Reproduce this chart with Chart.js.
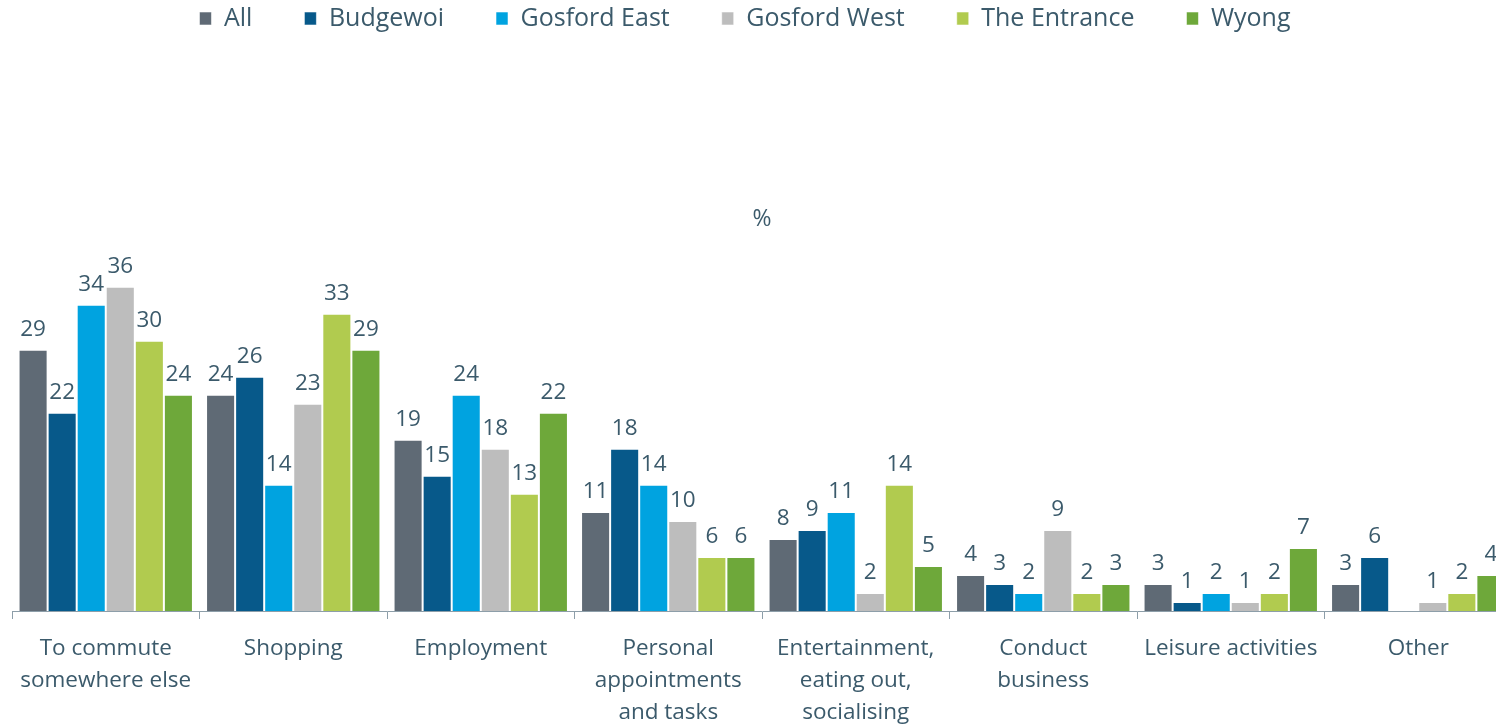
<!DOCTYPE html>
<html>
<head>
<meta charset="utf-8">
<title>Reasons for travel by area</title>
<script src="https://cdn.jsdelivr.net/npm/chart.js@4/dist/chart.umd.min.js"></script>
<style>
  html, body { margin: 0; padding: 0; background: #ffffff; overflow: hidden; }
  #wrap { position: relative; width: 1496px; height: 726px; overflow: hidden; }
  #chart { position: absolute; }
</style>
</head>
<body>
<div id="wrap"><canvas id="chart"></canvas></div>
<script>
// Trip purposes along the x axis
const categories = [
  ['To commute', 'somewhere else'],
  'Shopping',
  'Employment',
  ['Personal', 'appointments', 'and tasks'],
  ['Entertainment,', 'eating out,', 'socialising'],
  ['Conduct', 'business'],
  'Leisure activities',
  'Other'
];

// Share of respondents (%) per area
const seriesNames = ['All', 'Budgewoi', 'Gosford East', 'Gosford West', 'The Entrance', 'Wyong'];
const allAreas    = [29, 24, 19, 11, 8, 4, 3, 3];
const budgewoi    = [22, 26, 15, 18, 9, 3, 1, 6];
const gosfordEast = [34, 14, 24, 14, 11, 2, 2, 0];
const gosfordWest = [36, 23, 18, 10, 2, 9, 1, 1];
const theEntrance = [30, 33, 13, 6, 14, 2, 2, 2];
const wyong       = [24, 29, 22, 6, 5, 3, 7, 4];

const yMin = 0;
const yMax = 40;
const unitLabel = '%';

const seriesColors = ['#5f6a75', '#07598a', '#00a3e0', '#bdbdbd', '#b1cb4f', '#6ea83a'];
const seriesValues = [allAreas, budgewoi, gosfordEast, gosfordWest, theEntrance, wyong];

const TEXT = '#3b5a6b';
const AXIS = '#8d9ea9';
const FONT = "'Open Sans', 'DejaVu Sans', sans-serif";

// Layout constants
const LEGEND_FONT = 25;
const LEGEND_GAP = 52;   // spacing between legend entries
const SHIFT_X = 22;      // canvas sits slightly left of the viewport
const SHIFT_Y = 46;      // and slightly above it
const CANVAS_W = 1534;
const CANVAS_H = 726 + SHIFT_Y;

const canvas = document.getElementById('chart');
canvas.width = CANVAS_W;
canvas.height = CANVAS_H;
canvas.style.width = CANVAS_W + 'px';
canvas.style.height = CANVAS_H + 'px';
canvas.style.left = (-SHIFT_X) + 'px';
canvas.style.top = (-SHIFT_Y) + 'px';

// Writes each bar's value above it
const valueLabels = {
  id: 'valueLabels',
  afterDatasetsDraw(chart) {
    const ctx = chart.ctx;
    ctx.save();
    ctx.font = '22.5px ' + FONT;
    ctx.fillStyle = TEXT;
    ctx.textAlign = 'center';
    ctx.textBaseline = 'alphabetic';
    chart.data.datasets.forEach((ds, di) => {
      const meta = chart.getDatasetMeta(di);
      if (meta.hidden) return;
      meta.data.forEach((bar, i) => {
        const v = ds.data[i];
        if (!v) return;
        ctx.fillText(String(v), bar.x, bar.y - 14);
      });
    });
    ctx.restore();
  }
};

new Chart(canvas, {
  type: 'bar',
  data: {
    labels: categories,
    datasets: seriesNames.map((name, i) => ({
      label: name,
      data: seriesValues[i],
      backgroundColor: seriesColors[i],
      borderColor: 'rgba(255,255,255,0.55)',
      borderWidth: 1,
      categoryPercentage: 0.93,
      barPercentage: 1.0
    }))
  },
  options: {
    responsive: false,
    animation: false,
    devicePixelRatio: 1,
    layout: { padding: 0 },
    plugins: {
      legend: {
        position: 'top',
        align: 'center',
        fullSize: true,
        weight: 3000,
        labels: {
          boxWidth: 12,
          boxHeight: 13,
          padding: LEGEND_GAP,
          color: TEXT,
          font: { family: FONT, size: LEGEND_FONT }
        }
      },
      title: {
        display: true,
        text: unitLabel,
        fullSize: false,
        weight: 500,
        color: TEXT,
        font: { family: FONT, size: 23, weight: 'normal' },
        padding: { top: 165, bottom: 17 }
      },
      tooltip: { enabled: false }
    },
    scales: {
      x: {
        type: 'category',
        offset: true,
        grid: {
          display: true,
          drawOnChartArea: false,
          drawTicks: true,
          tickLength: 8,
          offset: true,
          color: AXIS,
          lineWidth: 1
        },
        border: { display: true, color: AXIS, width: 1 },
        ticks: {
          autoSkip: false,
          maxRotation: 0,
          minRotation: 0,
          padding: 14,
          color: TEXT,
          font: { family: FONT, size: 22.5, lineHeight: 32 / 22.5 }
        },
        afterFit(scale) { scale.height = 115; }
      },
      y: {
        display: true,
        min: yMin,
        max: yMax,
        grid: { display: false },
        border: { display: false },
        ticks: { display: false },
        afterFit(scale) { scale.width = 34; }
      }
    }
  },
  plugins: [valueLabels]
});
</script>
</body>
</html>
